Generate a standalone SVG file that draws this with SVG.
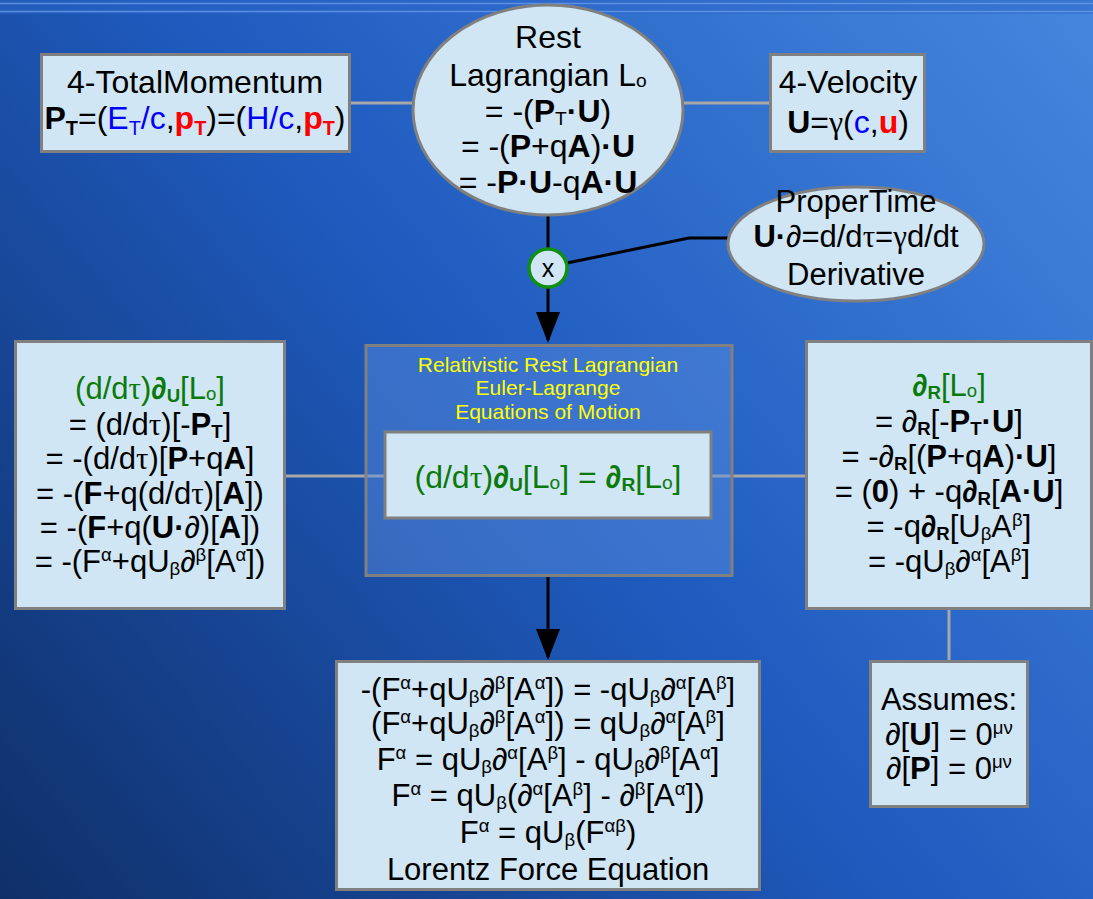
<svg xmlns="http://www.w3.org/2000/svg" width="1093" height="899" viewBox="0 0 1093 899">
<defs>
<linearGradient id="bg" x1="0" y1="899" x2="1093" y2="0" gradientUnits="userSpaceOnUse">
<stop offset="0" stop-color="#0f2f68"/>
<stop offset="0.5" stop-color="#1f5bbf"/>
<stop offset="1" stop-color="#4686de"/>
</linearGradient>
<marker id="arr" viewBox="0 0 31 24" refX="28" refY="12" markerWidth="31" markerHeight="24" markerUnits="userSpaceOnUse" orient="auto">
<path d="M0,0 L31,12 L0,24 Z" fill="#000"/>
</marker>
<style>
text{font-family:"Liberation Sans",Arial,sans-serif;text-anchor:middle;fill:#000}
.box{fill:#d0e6f4;stroke:#808080;stroke-width:3}
.t32{font-size:32px}
.t31{font-size:31px}
.b{font-weight:bold}
.g{fill:#0a7a0a}
.bl{fill:#0000ff}
.r{fill:#ff0000;font-weight:bold}
.y{fill:#ffff00;font-size:21px}
.s{font-family:"Liberation Serif",serif}
.sp{font-size:0.6em;baseline-shift:11px}
.sb{font-size:0.6em;baseline-shift:-3px}
.so{font-size:0.6em;baseline-shift:-1px}
.sT{font-size:0.62em;baseline-shift:-6px}
.gl{stroke:#a8a8a8;stroke-width:3;fill:none}
.kl{stroke:#000;stroke-width:3;fill:none}
</style>
</defs>
<rect width="1093" height="899" fill="url(#bg)"/>
<rect width="1093" height="14" fill="#2a66c8" opacity="0.5"/>
<line x1="0" y1="3.5" x2="1093" y2="3.5" stroke="#6a9ae6" stroke-width="1.5" opacity="0.8"/>
<line x1="0" y1="11.5" x2="1093" y2="11.5" stroke="#6a9ae6" stroke-width="1.5" opacity="0.8"/>

<g id="connectors">
<line class="gl" x1="350" y1="103" x2="414" y2="103"/>
<line class="gl" x1="683" y1="103" x2="770" y2="103"/>
<line class="gl" x1="285" y1="476" x2="385" y2="476"/>
<line class="gl" x1="711" y1="476" x2="806" y2="476"/>
<line class="gl" x1="949" y1="609" x2="949" y2="661"/>
<line class="kl" x1="548" y1="214" x2="548" y2="248"/>
<polyline class="kl" points="729,238 689,238 567,263"/>
<line class="kl" x1="548" y1="288" x2="548" y2="340" marker-end="url(#arr)"/>
<line class="kl" x1="548" y1="576" x2="548" y2="657" marker-end="url(#arr)"/>
</g>

<g id="n-totalmomentum">
<rect class="box" x="41.5" y="54.5" width="308" height="97"/>
<text class="t32" x="195" y="93">4-TotalMomentum</text>
<text class="t32" x="195" y="129"><tspan class="b">P</tspan><tspan class="sT b">T</tspan>=(<tspan class="bl">E<tspan class="sT">T</tspan>/c</tspan>,<tspan class="r">p<tspan class="sT">T</tspan></tspan>)=(<tspan class="bl">H/c</tspan>,<tspan class="r">p<tspan class="sT">T</tspan></tspan>)</text>
</g>

<g id="n-restlagrangian">
<ellipse class="box" cx="548" cy="110" rx="135" ry="105"/>
<text class="t32" x="548" y="48">Rest</text>
<text class="t32" x="548" y="86">Lagrangian L<tspan class="so">o</tspan></text>
<text class="t32" x="548" y="122">= -(<tspan class="b">P</tspan><tspan class="sb">T</tspan><tspan class="b">·U</tspan>)</text>
<text class="t32" x="548" y="157">= -(<tspan class="b">P</tspan>+q<tspan class="b">A</tspan>)<tspan class="b">·U</tspan></text>
<text class="t32" x="548" y="193">= -<tspan class="b">P·U</tspan>-q<tspan class="b">A·U</tspan></text>
</g>

<g id="n-velocity">
<rect class="box" x="770.5" y="54.5" width="154" height="97"/>
<text class="t32" x="848" y="93">4-Velocity</text>
<text class="t32" x="848" y="133"><tspan class="b">U</tspan>=<tspan class="s">γ</tspan>(<tspan class="bl">c</tspan>,<tspan class="r">u</tspan>)</text>
</g>

<g id="n-propertime">
<ellipse class="box" cx="856" cy="244" rx="128" ry="57"/>
<text class="t31" x="856" y="212">ProperTime</text>
<text class="t31" x="856" y="247"><tspan class="b">U·</tspan>∂=d/d<tspan class="s">τ</tspan>=<tspan class="s">γ</tspan>d/dt</text>
<text class="t31" x="856" y="285">Derivative</text>
</g>

<g id="n-x">
<circle cx="548" cy="268" r="19" fill="#d0e6f4" stroke="#109010" stroke-width="3.5"/>
<text x="548" y="277" style="font-size:25px">x</text>
</g>

<g id="n-eulerlagrange">
<rect x="366" y="345.5" width="366" height="230" fill="#5a8ede" fill-opacity="0.45" stroke="#808080" stroke-width="3"/>
<text class="y" x="548" y="372">Relativistic Rest Lagrangian</text>
<text class="y" x="548" y="395">Euler-Lagrange</text>
<text class="y" x="548" y="419">Equations of Motion</text>
<rect class="box" x="385" y="432" width="326" height="86"/>
<text class="t32 g" x="548" y="488">(d/d<tspan class="s">τ</tspan>)<tspan class="b">∂</tspan><tspan class="sb b">U</tspan>[L<tspan class="so">o</tspan>] = <tspan class="b">∂</tspan><tspan class="sb b">R</tspan>[L<tspan class="so">o</tspan>]</text>
</g>

<g id="n-left">
<rect class="box" x="15.5" y="341.5" width="269" height="267"/>
<text class="t31 g" x="150" y="399">(d/d<tspan class="s">τ</tspan>)<tspan class="b">∂</tspan><tspan class="sb b">U</tspan>[L<tspan class="so">o</tspan>]</text>
<text class="t31" x="150" y="435">= (d/d<tspan class="s">τ</tspan>)[-<tspan class="b">P</tspan><tspan class="sb b">T</tspan>]</text>
<text class="t31" x="150" y="469">= -(d/d<tspan class="s">τ</tspan>)[<tspan class="b">P</tspan>+q<tspan class="b">A</tspan>]</text>
<text class="t31" x="150" y="504">= -(<tspan class="b">F</tspan>+q(d/d<tspan class="s">τ</tspan>)[<tspan class="b">A</tspan>])</text>
<text class="t31" x="150" y="538">= -(<tspan class="b">F</tspan>+q(<tspan class="b">U·</tspan>∂)[<tspan class="b">A</tspan>])</text>
<text class="t31" x="150" y="572">= -(F<tspan class="sp">α</tspan>+qU<tspan class="sb">β</tspan>∂<tspan class="sp">β</tspan>[A<tspan class="sp">α</tspan>])</text>
</g>

<g id="n-right">
<rect class="box" x="806.5" y="341.5" width="285" height="267"/>
<text class="t31 g" x="949" y="396"><tspan class="b">∂</tspan><tspan class="sb b">R</tspan>[L<tspan class="so">o</tspan>]</text>
<text class="t31" x="949" y="432">= ∂<tspan class="sb b">R</tspan>[-<tspan class="b">P</tspan><tspan class="sb b">T</tspan><tspan class="b">·U</tspan>]</text>
<text class="t31" x="949" y="467">= -∂<tspan class="sb b">R</tspan>[(<tspan class="b">P</tspan>+q<tspan class="b">A</tspan>)<tspan class="b">·U</tspan>]</text>
<text class="t31" x="949" y="502">= (<tspan class="b">0</tspan>) + -q<tspan class="b">∂</tspan><tspan class="sb b">R</tspan>[<tspan class="b">A·U</tspan>]</text>
<text class="t31" x="949" y="537">= -q<tspan class="b">∂</tspan><tspan class="sb b">R</tspan>[U<tspan class="sb">β</tspan>A<tspan class="sp">β</tspan>]</text>
<text class="t31" x="949" y="572">= -qU<tspan class="sb">β</tspan>∂<tspan class="sp">α</tspan>[A<tspan class="sp">β</tspan>]</text>
</g>

<g id="n-assumes">
<rect class="box" x="870.5" y="661.5" width="157" height="145"/>
<text class="t31" x="949" y="710">Assumes:</text>
<text class="t31" x="949" y="745">∂[<tspan class="b">U</tspan>] = 0<tspan class="sp">μν</tspan></text>
<text class="t31" x="949" y="779">∂[<tspan class="b">P</tspan>] = 0<tspan class="sp">μν</tspan></text>
</g>

<g id="n-lorentz">
<rect class="box" x="336.5" y="661.5" width="423" height="228"/>
<text class="t31" x="548" y="700">-(F<tspan class="sp">α</tspan>+qU<tspan class="sb">β</tspan>∂<tspan class="sp">β</tspan>[A<tspan class="sp">α</tspan>]) = -qU<tspan class="sb">β</tspan>∂<tspan class="sp">α</tspan>[A<tspan class="sp">β</tspan>]</text>
<text class="t31" x="548" y="734">(F<tspan class="sp">α</tspan>+qU<tspan class="sb">β</tspan>∂<tspan class="sp">β</tspan>[A<tspan class="sp">α</tspan>]) = qU<tspan class="sb">β</tspan>∂<tspan class="sp">α</tspan>[A<tspan class="sp">β</tspan>]</text>
<text class="t31" x="548" y="770">F<tspan class="sp">α</tspan> = qU<tspan class="sb">β</tspan>∂<tspan class="sp">α</tspan>[A<tspan class="sp">β</tspan>] - qU<tspan class="sb">β</tspan>∂<tspan class="sp">β</tspan>[A<tspan class="sp">α</tspan>]</text>
<text class="t31" x="548" y="806">F<tspan class="sp">α</tspan> = qU<tspan class="sb">β</tspan>(∂<tspan class="sp">α</tspan>[A<tspan class="sp">β</tspan>] - ∂<tspan class="sp">β</tspan>[A<tspan class="sp">α</tspan>])</text>
<text class="t31" x="548" y="843">F<tspan class="sp">α</tspan> = qU<tspan class="sb">β</tspan>(F<tspan class="sp">αβ</tspan>)</text>
<text class="t31" x="548" y="880">Lorentz Force Equation</text>
</g>
</svg>
